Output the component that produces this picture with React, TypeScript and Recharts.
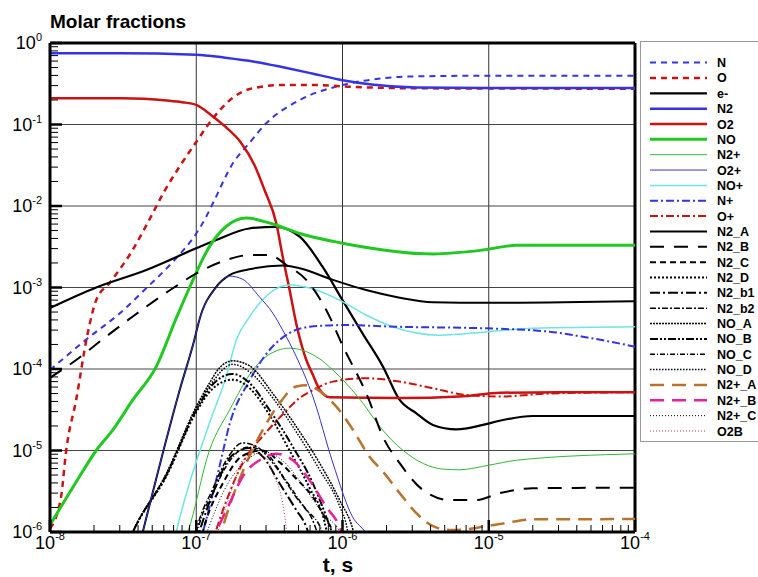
import { LineChart, Line, XAxis, YAxis, ReferenceLine, Legend } from "recharts";

const W = 758;
const H = 577;
const PLOT_LEFT = 50;
const PLOT_BOTTOM = 532;
const FONT = "'Liberation Sans', Arial, Helvetica, sans-serif";

// [time (s), molar fraction]
const N = [[1e-8, 9.7e-5], [1.81e-8, 2.38e-4], [2.99e-8, 4.8e-4], [4.55e-8, 9.8e-4], [6.9e-8, 2.06e-3], [1e-7, 4.6e-3], [1.17e-7, 7.4e-3], [1.29e-7, 1.05e-2], [1.78e-7, 3.34e-2], [2.3e-7, 0.059], [3.0e-7, 0.103], [5.1e-7, 0.2], [1e-6, 0.305], [1.89e-6, 0.369], [2.7e-6, 0.387], [1e-5, 0.397], [1e-4, 0.397]];
const O = [[1e-8, 1.1e-6], [1.19e-8, 2.7e-6], [1.29e-8, 1e-5], [1.51e-8, 4.2e-5], [1.81e-8, 2.74e-4], [2.07e-8, 7.0e-4], [2.55e-8, 1.13e-3], [3.68e-8, 2.9e-3], [4.8e-8, 6.9e-3], [6.07e-8, 1.53e-2], [7.81e-8, 3.18e-2], [1e-7, 0.061], [1.29e-7, 0.117], [1.77e-7, 0.211], [2.32e-7, 0.273], [3.9e-7, 0.305], [6.6e-7, 0.305], [1.15e-6, 0.29], [3.2e-6, 0.278], [1e-4, 0.275]];
const E = [[1e-8, 5.6e-4], [2.07e-8, 1.0e-3], [4.55e-8, 1.64e-3], [1e-7, 3.03e-3], [1.37e-7, 3.83e-3], [2.3e-7, 5.3e-3], [3.5e-7, 5.56e-3], [5.1e-7, 4.2e-3], [7.3e-7, 1.8e-3], [1e-6, 7.0e-4], [1.37e-6, 2.74e-4], [1.89e-6, 1.07e-4], [2.46e-6, 4.17e-5], [3.2e-6, 2.86e-5], [4.15e-6, 2.06e-5], [6e-6, 1.82e-5], [9.1e-6, 2.06e-5], [1.19e-5, 2.32e-5], [2e-5, 2.65e-5], [1e-4, 2.65e-5]];
const N2 = [[1e-8, 0.75], [3e-8, 0.75], [1e-7, 0.72], [1.58e-7, 0.66], [2.5e-7, 0.59], [4e-7, 0.5], [6.3e-7, 0.42], [1e-6, 0.35], [1.58e-6, 0.31], [3.2e-6, 0.285], [1e-5, 0.28], [1e-4, 0.28]];
const O2 = [[1e-8, 0.21], [3.1e-8, 0.21], [6.3e-8, 0.197], [8e-8, 0.188], [1e-7, 0.174], [1.26e-7, 0.131], [1.58e-7, 0.094], [2e-7, 0.0615], [2.5e-7, 0.0318], [2.93e-7, 0.0157], [3.53e-7, 6.1e-3], [3.9e-7, 2.39e-3], [4.35e-7, 9.3e-4], [4.83e-7, 3.6e-4], [5.65e-7, 1.3e-4], [6.27e-7, 8.5e-5], [6.97e-7, 5.6e-5], [8.16e-7, 4.5e-5], [2.5e-6, 4.4e-5], [6.3e-6, 4.6e-5], [1.2e-5, 5.1e-5], [3e-5, 5.2e-5], [1e-4, 5.2e-5]];
const NO = [[1e-8, 1.22e-6], [1.47e-8, 3.8e-6], [2.07e-8, 1.0e-5], [2.69e-8, 1.79e-5], [3.69e-8, 4.2e-5], [5.33e-8, 1.07e-4], [7.3e-8, 4.2e-4], [9.0e-8, 1.0e-3], [1.23e-7, 3.17e-3], [1.6e-7, 5.6e-3], [2.2e-7, 7.1e-3], [3.5e-7, 5.85e-3], [5.1e-7, 4.6e-3], [1e-6, 3.5e-3], [4.15e-6, 2.58e-3], [9.1e-6, 2.88e-3], [1.55e-5, 3.3e-3], [1e-4, 3.3e-3]];
const N2P = [[8.07e-8, 7e-7], [8.75e-8, 1e-6], [1.23e-7, 1e-5], [1.69e-7, 3.14e-5], [2.44e-7, 9.7e-5], [3.0e-7, 1.42e-4], [4.35e-7, 1.8e-4], [6.6e-7, 1.42e-4], [9.6e-7, 8.0e-5], [1.38e-6, 3.8e-5], [1.8e-6, 1.96e-5], [2.6e-6, 1e-5], [4.9e-6, 5.9e-6], [6.3e-6, 5.8e-6], [1e-5, 6.6e-6], [1.55e-5, 7.6e-6], [1e-4, 9.1e-6]];
const O2P = [[4.1e-8, 7e-7], [7.7e-8, 5.5e-5], [9.7e-8, 2.27e-4], [1.05e-7, 4.0e-4], [1.37e-7, 1.0e-3], [1.69e-7, 1.38e-3], [2.08e-7, 1.26e-3], [2.7e-7, 7.7e-4], [3.35e-7, 4.8e-4], [3.9e-7, 3.0e-4], [4.83e-7, 1.42e-4], [6.27e-7, 4.6e-5], [8.6e-7, 7.0e-6], [1.17e-6, 1.54e-6], [1.45e-6, 9.6e-7], [1.66e-6, 6e-7]];
const NOP = [[6.98e-8, 7e-7], [7.3e-8, 1e-6], [1.23e-7, 2.16e-5], [1.6e-7, 8.0e-5], [1.88e-7, 2.27e-4], [2.32e-7, 4.4e-4], [3.17e-7, 8.5e-4], [4.35e-7, 1.07e-3], [6.6e-7, 9.3e-4], [1e-6, 6.7e-4], [1.45e-6, 4.6e-4], [2.2e-6, 3.3e-4], [4.6e-6, 2.6e-4], [1e-5, 2.87e-4], [2e-5, 3.16e-4], [1e-4, 3.3e-4]];
const NP = [[1.05e-7, 7e-7], [1.11e-7, 1e-6], [1.44e-7, 6.3e-6], [1.69e-7, 2.1e-5], [2.32e-7, 7.3e-5], [3.17e-7, 1.71e-4], [4.35e-7, 2.77e-4], [5.96e-7, 3.3e-4], [1.01e-6, 3.46e-4], [2.33e-6, 3.3e-4], [9.1e-6, 3.16e-4], [2.61e-5, 2.87e-4], [4.4e-5, 2.49e-4], [1e-4, 1.88e-4]];
const OP = [[1.27e-7, 7e-7], [1.56e-7, 2.1e-6], [2.2e-7, 8.4e-6], [2.85e-7, 1.5e-5], [4.0e-7, 2.9e-5], [5.0e-7, 4.3e-5], [6.27e-7, 5.5e-5], [8.6e-7, 7.0e-5], [1.45e-6, 7.7e-5], [2.46e-6, 7.0e-5], [4.15e-6, 5.8e-5], [7.03e-6, 4.8e-5], [1.19e-5, 4.6e-5], [2.61e-5, 5.0e-5], [1e-4, 5.2e-5]];
const N2_A = [[4.1e-8, 7e-7], [7.7e-8, 5.5e-5], [9.7e-8, 2.27e-4], [1.05e-7, 4.0e-4], [1.37e-7, 1.02e-3], [1.69e-7, 1.42e-3], [2.3e-7, 1.67e-3], [3.9e-7, 1.86e-3], [5.1e-7, 1.72e-3], [8.6e-7, 1.24e-3], [1.45e-6, 9.3e-4], [2.46e-6, 7.5e-4], [4.15e-6, 6.6e-4], [1e-5, 6.5e-4], [1e-4, 6.8e-4]];
const N2_B = [[1e-8, 7.8e-5], [1.51e-8, 1.29e-4], [2.18e-8, 2.16e-4], [3.68e-8, 4.4e-4], [6.92e-8, 9.8e-4], [1.05e-7, 1.56e-3], [1.6e-7, 2.17e-3], [2.32e-7, 2.5e-3], [3.17e-7, 2.5e-3], [4.13e-7, 1.89e-3], [5.65e-7, 1.24e-3], [7.74e-7, 5.3e-4], [1.01e-6, 1.88e-4], [1.5e-6, 4.4e-5], [1.88e-6, 1.5e-5], [2.46e-6, 7.0e-6], [3.53e-6, 3.3e-6], [5.41e-6, 2.47e-6], [8.26e-6, 2.47e-6], [1.19e-5, 3.0e-6], [2e-5, 3.44e-6], [1e-4, 3.5e-6]];
const N2_C = [[1.05e-7, 7e-7], [1.17e-7, 1.4e-6], [1.52e-7, 3.96e-6], [2.07e-7, 8.6e-6], [2.85e-7, 1.0e-5], [3.71e-7, 7.2e-6], [4.83e-7, 4.5e-6], [6.27e-7, 2.7e-6], [7.74e-7, 1.4e-6], [8.55e-7, 1e-6], [8.9e-7, 7e-7]];
const N2_D = [[3.39e-8, 7e-7], [3.69e-8, 1e-6], [6.24e-8, 4.8e-6], [1e-7, 2.97e-5], [1.29e-7, 5.7e-5], [1.77e-7, 7.4e-5], [2.32e-7, 5.8e-5], [3.17e-7, 2.73e-5], [4.35e-7, 1.0e-5], [5.96e-7, 3.47e-6], [7.54e-7, 1.33e-6], [8.0e-7, 8e-7]];
const N2_B1 = [[9.9e-8, 7e-7], [1.05e-7, 1e-6], [1.33e-7, 3.3e-6], [1.77e-7, 8.8e-6], [2.32e-7, 1.07e-5], [2.85e-7, 8.4e-6], [3.71e-7, 3.96e-6], [4.83e-7, 1.86e-6], [5.65e-7, 1.16e-6], [6.05e-7, 8e-7]];
const N2_B2 = [[9.6e-8, 7e-7], [1e-7, 1e-6], [1.29e-7, 3.3e-6], [1.64e-7, 8.1e-6], [2.08e-7, 1.24e-5], [2.62e-7, 1.1e-5], [3.43e-7, 6.6e-6], [4.7e-7, 2.84e-6], [6.44e-7, 1.22e-6], [6.97e-7, 8e-7]];
const NO_A = [[3.39e-8, 7e-7], [3.69e-8, 1e-6], [6.24e-8, 5.2e-6], [1e-7, 3.45e-5], [1.23e-7, 6.7e-5], [1.44e-7, 1.03e-4], [1.77e-7, 1.26e-4], [2.32e-7, 1.09e-4], [3.34e-7, 5.0e-5], [4.83e-7, 1.96e-5], [6.97e-7, 7.0e-6], [9.55e-7, 2.47e-6], [1.18e-6, 1.06e-6], [1.25e-6, 7e-7]];
const NO_B = [[3.39e-8, 7e-7], [3.69e-8, 1e-6], [6.24e-8, 5.0e-6], [1e-7, 3.14e-5], [1.29e-7, 6.4e-5], [1.77e-7, 8.7e-5], [2.32e-7, 6.7e-5], [3.17e-7, 3.14e-5], [4.58e-7, 1.11e-5], [6.27e-7, 3.96e-6], [7.74e-7, 1.54e-6], [8.55e-7, 9.2e-7], [8.9e-7, 7e-7]];
const NO_C = [[9.8e-8, 7e-7], [1.02e-7, 1e-6], [1.31e-7, 3.1e-6], [1.69e-7, 7.4e-6], [2.25e-7, 1.1e-5], [2.93e-7, 9.6e-6], [4.0e-7, 4.6e-6], [5.51e-7, 1.97e-6], [7.18e-7, 1.06e-6], [7.66e-7, 7e-7]];
const NO_D = [[3.39e-8, 7e-7], [3.69e-8, 1e-6], [6.24e-8, 5.1e-6], [1e-7, 3.3e-5], [1.26e-7, 6.5e-5], [1.77e-7, 1.14e-4], [2.32e-7, 9.2e-5], [3.34e-7, 4.4e-5], [4.83e-7, 1.69e-5], [6.97e-7, 5.8e-6], [9.55e-7, 2.08e-6], [1.08e-6, 1.06e-6], [1.12e-6, 7e-7]];
const N2P_A = [[1.4e-7, 7e-7], [1.69e-7, 2.1e-6], [2.2e-7, 7.0e-6], [2.85e-7, 1.79e-5], [3.71e-7, 3.8e-5], [4.83e-7, 6.1e-5], [5.65e-7, 6.3e-5], [7.35e-7, 5.0e-5], [9.08e-7, 3.45e-5], [1.18e-6, 1.79e-5], [1.53e-6, 8.4e-6], [1.89e-6, 5.5e-6], [2.46e-6, 3.0e-6], [3.2e-6, 1.7e-6], [4.15e-6, 1.18e-6], [5.4e-6, 1.06e-6], [7.03e-6, 1.08e-6], [9.1e-6, 1.16e-6], [1.19e-5, 1.25e-6], [2e-5, 1.43e-6], [1e-4, 1.44e-6]];
const N2P_B = [[1.19e-7, 7e-7], [1.3e-7, 8.8e-7], [1.64e-7, 2.0e-6], [2.08e-7, 4.8e-6], [2.85e-7, 8.0e-6], [3.52e-7, 9.1e-6], [4.58e-7, 7.6e-6], [5.96e-7, 4.3e-6], [7.74e-7, 2.04e-6], [9.55e-7, 1.16e-6], [1.03e-6, 8e-7]];
const N2P_C = [[1.1e-7, 7e-7], [1.23e-7, 1.2e-6], [1.56e-7, 3.3e-6], [2.14e-7, 7.2e-6], [2.93e-7, 9.6e-6], [4.0e-7, 7.2e-6], [5.51e-7, 3.47e-6], [7.54e-7, 1.62e-6], [9.55e-7, 1e-6], [1.03e-6, 7e-7]];
const O2B = [[1.33e-7, 7e-7], [1.49e-7, 1.4e-6], [1.78e-7, 3.6e-6], [2.08e-7, 7.6e-6], [2.57e-7, 9.2e-6], [2.98e-7, 8.2e-6], [3.34e-7, 5.2e-6], [3.71e-7, 3.3e-6], [3.9e-7, 2.25e-6], [4.13e-7, 1.06e-6], [4.21e-7, 7e-7]];

const X_DECADES = [1e-8, 1e-7, 1e-6, 1e-5, 1e-4];
const Y_DECADES = [1e-6, 1e-5, 1e-4, 1e-3, 1e-2, 1e-1, 1];
const MINOR = [2, 3, 4, 5, 6, 7, 8, 9];

const withMinor = (dec: number[]) =>
  dec.flatMap((d, i) => (i < dec.length - 1 ? [d, ...MINOR.map((m) => m * d)] : [d]));
const X_TICKS = withMinor(X_DECADES);
const Y_TICKS = withMinor(Y_DECADES);

const BLUE = "#3434e4";
const RED = "#cc1111";

const SERIES = [
  { name: "N", data: N, color: BLUE, width: 2, dash: "6 5" },
  { name: "O", data: O, color: RED, width: 2.5, dash: "6 5" },
  { name: "e-", data: E, color: "#000", width: 2.2 },
  { name: "N2", data: N2, color: BLUE, width: 2.5 },
  { name: "O2", data: O2, color: RED, width: 2.5 },
  { name: "NO", data: NO, color: "#22c822", width: 3 },
  { name: "N2+", data: N2P, color: "#33b833", width: 1 },
  { name: "O2+", data: O2P, color: "#3333c8", width: 1 },
  { name: "NO+", data: NOP, color: "#6ee4e4", width: 1.5 },
  { name: "N+", data: NP, color: BLUE, width: 2, dash: "8 3 2 3" },
  { name: "O+", data: OP, color: RED, width: 2, dash: "8 3 2 3" },
  { name: "N2_A", data: N2_A, color: "#000", width: 2 },
  { name: "N2_B", data: N2_B, color: "#000", width: 2, dash: "14 10" },
  { name: "N2_C", data: N2_C, color: "#000", width: 2, dash: "6 4" },
  { name: "N2_D", data: N2_D, color: "#000", width: 2, dash: "2 2" },
  { name: "N2_b1", data: N2_B1, color: "#000", width: 2, dash: "10 3 2 3" },
  { name: "N2_b2", data: N2_B2, color: "#000", width: 1.5, dash: "6 2 2 2" },
  { name: "NO_A", data: NO_A, color: "#000", width: 1.5, dash: "2 1" },
  { name: "NO_B", data: NO_B, color: "#000", width: 2, dash: "8 2 2 2 2 2" },
  { name: "NO_C", data: NO_C, color: "#000", width: 1.5, dash: "5 2 1 2" },
  { name: "NO_D", data: NO_D, color: "#000", width: 1.5, dash: "1.5 1.5" },
  { name: "N2+_A", data: N2P_A, color: "#b8732e", width: 2.5, dash: "14 8" },
  { name: "N2+_B", data: N2P_B, color: "#e8209a", width: 2.5, dash: "14 8" },
  { name: "N2+_C", data: N2P_C, color: "#000", width: 1, dash: "1 2" },
  { name: "O2B", data: O2B, color: "#b83a3a", width: 1, dash: "1 2" },
];

// O2+ drawn last so its thin blue line sits on top of N2_A where they overlap
const DRAW_ORDER = [...SERIES.filter((s) => s.name !== "O2+"), ...SERIES.filter((s) => s.name === "O2+")];

const toPts = (arr: number[][]) => arr.map(([t, v]) => ({ t, v }));

const isDecade = (v: number) => {
  const l = Math.log10(v);
  return Math.abs(l - Math.round(l)) < 1e-6;
};

function YTick(props: any) {
  const { y, payload } = props;
  const v = payload.value;
  const major = isDecade(v);
  const e = Math.round(Math.log10(v));
  return (
    <g>
      <line x1={PLOT_LEFT} x2={PLOT_LEFT + (major ? 12 : 8)} y1={y} y2={y} stroke="#000" strokeWidth={major ? 2.5 : 1} />
      {major && (
        <text x={42} y={y + 6} textAnchor="end" fontSize={18} fontFamily={FONT} fill="#000">
          10<tspan dy={-8} fontSize={11}>{e}</tspan>
        </text>
      )}
    </g>
  );
}

function XTick(props: any) {
  const { x, payload } = props;
  const v = payload.value;
  const major = isDecade(v);
  const e = Math.round(Math.log10(v));
  return (
    <g>
      <line x1={x} x2={x} y1={PLOT_BOTTOM} y2={PLOT_BOTTOM - (major ? 12 : 7)} stroke="#000" strokeWidth={major ? 2.5 : 1} />
      {major && (
        <text x={x} y={549} textAnchor="middle" fontSize={18} fontFamily={FONT} fill="#000">
          10<tspan dy={-9} fontSize={11}>{e}</tspan>
        </text>
      )}
    </g>
  );
}

function LegendBox() {
  const step = 15.35;
  return (
    <svg width={130} height={402} style={{ display: "block" }}>
      <rect x={0.5} y={0.5} width={140} height={400} fill="#fff" stroke="#999" />
      {SERIES.map((s, i) => {
        const cy = 21.6 + i * step;
        return (
          <g key={s.name}>
            <line x1={10} x2={67} y1={cy} y2={cy} stroke={s.color} strokeWidth={s.width} strokeDasharray={s.dash} />
            <text x={77} y={cy + 4.5} fontSize={12.5} fontWeight="bold" fontFamily={FONT} fill="#000">
              {s.name}
            </text>
          </g>
        );
      })}
    </svg>
  );
}

const GRID_X = [1e-7, 1e-6, 1e-5];
const GRID_Y = [1e-1, 1e-2, 1e-3, 1e-4, 1e-5];

export default function App() {
  return (
    <div style={{ position: "absolute", left: 0, top: 0, width: W, height: H, overflow: "hidden", background: "#fff" }}>
      <LineChart width={W} height={H} margin={{ top: 43, right: 123, bottom: 0, left: 0 }}>
        <XAxis
          type="number"
          dataKey="t"
          scale="log"
          domain={[1e-8, 1e-4]}
          allowDataOverflow
          ticks={X_TICKS}
          interval={0}
          tickLine={false}
          tick={(p: any) => <XTick {...p} />}
          axisLine={{ stroke: "#000", strokeWidth: 3 }}
          height={45}
        />
        <YAxis
          type="number"
          scale="log"
          domain={[1e-6, 1]}
          allowDataOverflow
          ticks={Y_TICKS}
          interval={0}
          tickLine={false}
          tick={(p: any) => <YTick {...p} />}
          axisLine={{ stroke: "#000", strokeWidth: 3 }}
          width={50}
        />
        {GRID_X.map((g) => (
          <ReferenceLine key={"gx" + g} x={g} stroke="#333" strokeWidth={1} />
        ))}
        {GRID_Y.map((g) => (
          <ReferenceLine key={"gy" + g} y={g} stroke="#444" strokeWidth={1} />
        ))}
        <ReferenceLine y={1} stroke="#000" strokeWidth={3} />
        <ReferenceLine x={1e-4} stroke="#000" strokeWidth={3} />
        {DRAW_ORDER.map((s) => (
          <Line
            key={s.name}
            data={toPts(s.data)}
            dataKey="v"
            name={s.name}
            type="monotone"
            stroke={s.color}
            strokeWidth={s.width}
            strokeDasharray={s.dash}
            dot={false}
            activeDot={false}
            isAnimationActive={false}
          />
        ))}
        <Legend
          layout="vertical"
          align="center"
          verticalAlign="middle"
          wrapperStyle={{ left: 640, top: 41, width: 130, height: 402 }}
          content={() => <LegendBox />}
        />
      </LineChart>
      <svg width={W} height={H} style={{ position: "absolute", left: 0, top: 0, pointerEvents: "none" }}>
        <text x={50} y={28} fontSize={19} fontWeight="bold" fontFamily={FONT} fill="#000">
          Molar fractions
        </text>
        <text x={338} y={572} textAnchor="middle" fontSize={21} fontWeight="bold" fontFamily={FONT} fill="#000">
          t, s
        </text>
      </svg>
    </div>
  );
}
